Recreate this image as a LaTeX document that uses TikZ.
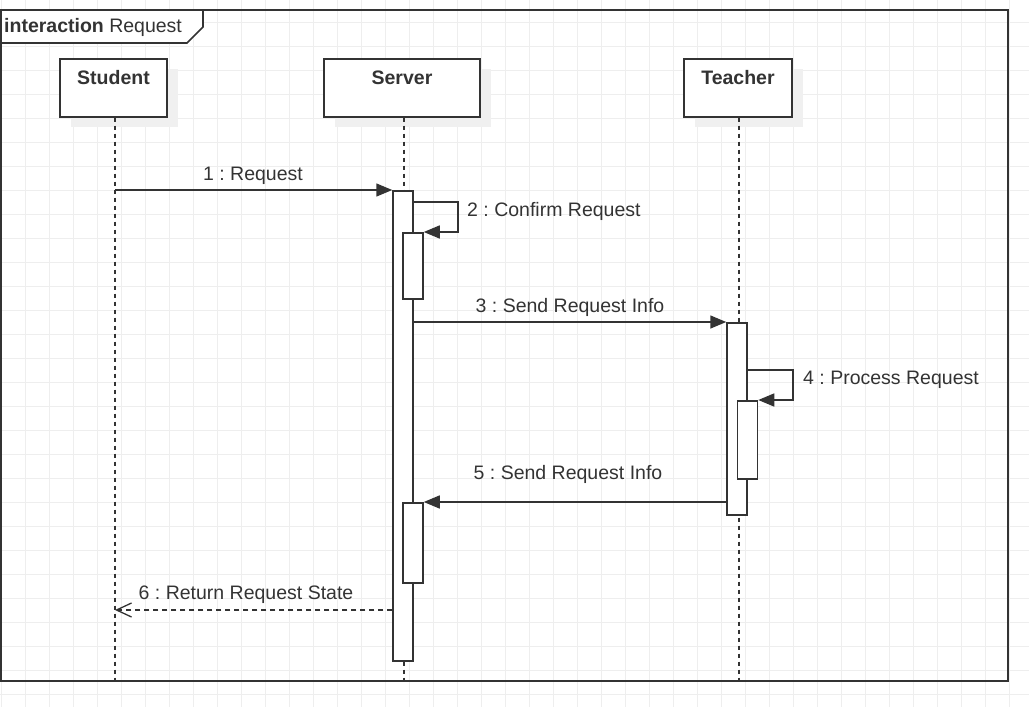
\documentclass[tikz,border=0pt]{standalone}
\usepackage{fontspec}
\setmainfont{Liberation Sans}
\usetikzlibrary{arrows.meta, shadows}
\definecolor{ink}{HTML}{333333}
\definecolor{gridgray}{HTML}{EEEEEE}
\frenchspacing

\begin{document}
\begin{tikzpicture}[x=1pt, y=-1pt, every node/.style={text=ink, font=\fontsize{19.5}{23}\selectfont},
			gridline/.style={draw=gridgray, line width=1pt},
			frame/.style={draw=ink, line width=1.6pt},
			lifebox/.style={draw=ink, line width=1.5pt, fill=white, minimum width=107pt, minimum height=58pt,
				inner ysep=6pt, text height=20pt, text depth=26pt, anchor=north, font=\fontsize{19.5}{23}\selectfont\bfseries,
				drop shadow={shadow xshift=11pt, shadow yshift=-10pt, fill=black!6, opacity=1}},
			lifeline/.style={draw=ink, line width=1.4pt, dash pattern=on 4pt off 4pt},
			actbar/.style={draw=ink, line width=1.5pt, fill=white, minimum width=20pt, anchor=north, inner sep=0pt},
			call/.style={draw=ink, line width=1.5pt, -{Triangle[length=16pt, width=13pt]}},
			reply/.style={draw=ink, line width=1.3pt, dash pattern=on 5pt off 4pt, -{Straight Barb[length=15pt, width=14pt]}},
			msglabel/.style={anchor=base, inner sep=0pt}]

			\useasboundingbox (0,0) rectangle (1029,707);

			% background grid
			\foreach \gx in {0,...,42} \draw[gridline] (1+24*\gx,0) -- (1+24*\gx,707);
			\foreach \gy in {-1,...,28} \draw[gridline] (0,22.7+24*\gy) -- (1029,22.7+24*\gy);

			% interaction frame
			\draw[frame] (1,10) rectangle (1008,681);
			\draw[frame, fill=white] (1,10) -- (203,10) -- (203,27) -- (187,43) -- (1,43) -- cycle;
			\node[anchor=base west, inner sep=0pt] (frame-title) at (4,32) {\textbf{interaction} Request};

			% lifelines
			\node[lifebox, minimum width=107pt] (stu-box) at (113.5,58) {Student};
			\node[lifebox, minimum width=156pt] (srv-box) at (402,58) {Server};
			\node[lifebox, minimum width=108pt] (tch-box) at (738,58) {Teacher};
			\coordinate (stu-end) at (115,681);
			\coordinate (srv-end) at (404,681);
			\coordinate (tch-end) at (739,681);
			\draw[lifeline] (stu-end |- stu-box.south) -- (stu-end);
			\draw[lifeline] (srv-end |- srv-box.south) -- (srv-end);
			\draw[lifeline] (tch-end |- tch-box.south) -- (tch-end);

			% activations
			\node[actbar, minimum height=470pt] (srv-act) at (403,190) {};
			\node[actbar, minimum height=66pt] (srv-sub1) at (413,232) {};
			\node[actbar, minimum height=80pt] (srv-sub2) at (413,502) {};
			\node[actbar, minimum height=192pt] (tch-act) at (737,322) {};
			\node[actbar, minimum height=78pt] (tch-sub) at (747.5,400) {};

			% messages
			\draw[call] (stu-end |- srv-act.north) -- (srv-act.north west);
			\node[msglabel] (m1-label) at (253,180) {1 : Request};

			\draw[call] ([yshift=-12pt]srv-act.north east) -- ++(44,0) |- (srv-sub1.north east);
			\node[msglabel, anchor=base west] (m2-label) at (467,216) {2 : Confirm Request};

			\draw[call] (srv-act.east |- tch-act.north) -- (tch-act.north west);
			\node[msglabel] (m3-label) at (570,312) {3 : Send Request Info};

			\draw[call] ([yshift=-48pt]tch-act.north east) -- ++(45,0) |- (tch-sub.north east);
			\node[msglabel, anchor=base west] (m4-label) at (803,384) {4 : Process Request};

			\draw[call] (tch-act.west |- srv-sub2.north) -- (srv-sub2.north east);
			\node[msglabel] (m5-label) at (568,479) {5 : Send Request Info};

			\coordinate (m6-start) at (srv-act.west |- 0,610);
			\draw[reply] (m6-start) -- (stu-end |- m6-start);
			\node[msglabel] (m6-label) at (246,599) {6 : Return Request State};
		\end{tikzpicture}
\end{document}
